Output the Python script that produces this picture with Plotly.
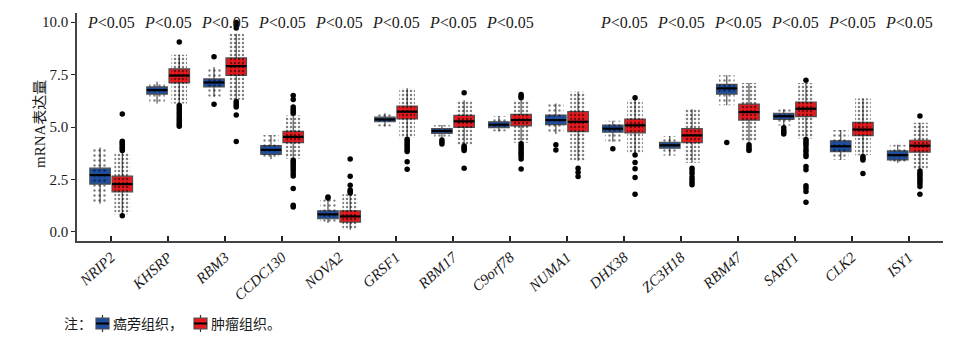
import plotly.graph_objects as go

# Genes on the x axis
genes = ["NRIP2", "KHSRP", "RBM3", "CCDC130", "NOVA2", "GRSF1", "RBM17", "C9orf78",
         "NUMA1", "DHX38", "ZC3H18", "RBM47", "SART1", "CLK2", "ISY1"]
tick_labels = ["<i>%s</i>" % g for g in genes]

# Significance label per gene ("" where no label is shown)
p_labels = ["P<0.05"] * 8 + [""] + ["P<0.05"] * 6

# Adjacent (normal) tissue box statistics
normal_q1 = [2.28, 6.57, 6.91, 3.70, 0.63, 5.25, 4.70, 4.97, 5.11, 4.75, 3.99, 6.57, 5.36, 3.83, 3.43]
normal_median = [2.71, 6.76, 7.12, 3.91, 0.84, 5.36, 4.81, 5.11, 5.33, 4.92, 4.13, 6.84, 5.51, 4.08, 3.66]
normal_q3 = [3.04, 6.91, 7.29, 4.11, 1.01, 5.47, 4.92, 5.25, 5.57, 5.09, 4.27, 7.03, 5.65, 4.34, 3.86]
normal_low = [1.34, 6.12, 6.44, 3.47, 0.43, 5.02, 4.50, 4.78, 4.67, 4.30, 3.64, 6.04, 5.07, 3.43, 3.28]
normal_high = [4.02, 7.15, 7.86, 4.62, 1.55, 5.65, 5.09, 5.52, 6.12, 5.30, 4.57, 7.47, 5.84, 4.86, 4.15]
normal_outliers = [[], [], [8.35, 6.08], [], [1.62, 1.66], [], [4.38, 4.28, 4.19], [],
                   [4.16, 3.91], [3.96], [], [4.26], [4.97, 4.85, 4.75, 4.67], [], []]

# Tumor tissue box statistics
tumor_q1 = [1.91, 7.10, 7.46, 4.26, 0.47, 5.38, 4.98, 5.05, 4.78, 4.72, 4.26, 5.33, 5.49, 4.59, 3.80]
tumor_median = [2.28, 7.45, 7.90, 4.53, 0.74, 5.73, 5.27, 5.33, 5.25, 5.08, 4.60, 5.71, 5.87, 4.88, 4.11]
tumor_q3 = [2.66, 7.77, 8.29, 4.79, 1.01, 6.00, 5.55, 5.60, 5.73, 5.38, 4.92, 6.09, 6.19, 5.22, 4.37]
tumor_low = [0.85, 6.12, 6.30, 3.50, 0.10, 4.48, 4.15, 4.25, 3.39, 3.75, 3.30, 4.30, 4.45, 3.65, 2.96]
tumor_high = [3.78, 8.44, 9.44, 5.55, 1.80, 6.84, 6.28, 6.28, 6.68, 6.30, 5.84, 7.10, 7.10, 6.36, 5.20]
tumor_outliers = [
    [5.62, 4.32, 4.25, 4.18, 4.10, 4.02, 3.95, 3.88, 0.77],
    [9.05, 6.02, 5.92, 5.82, 5.72, 5.62, 5.52, 5.42, 5.32, 5.22, 5.12, 5.04],
    [9.98, 9.85, 9.71, 6.22, 6.12, 6.02, 5.95, 5.57, 4.31],
    [6.50, 6.31, 5.95, 5.85, 5.75, 5.65, 3.42, 3.32, 3.22, 3.12, 3.02, 2.92, 2.78, 2.67, 2.07, 1.27, 1.19],
    [3.48, 2.66, 2.23, 2.00, 1.93, 1.86],
    [4.42, 4.32, 4.22, 4.12, 4.02, 3.92, 3.83, 3.35, 2.99],
    [6.63, 4.10, 4.02, 3.95, 3.88, 3.04],
    [6.55, 6.45, 6.39, 4.20, 4.10, 4.00, 3.90, 3.80, 3.70, 3.60, 3.48, 3.00],
    [3.04, 2.85, 2.64],
    [6.39, 3.67, 3.31, 3.01, 2.59, 1.80],
    [3.04, 2.92, 2.78, 2.62, 2.50, 2.37, 2.25],
    [4.15, 4.05, 3.95, 3.88],
    [7.23, 4.40, 4.30, 4.20, 4.10, 3.95, 3.85, 3.70, 3.59, 3.12, 2.96, 2.20, 2.08, 1.93, 1.41],
    [3.59, 3.50, 3.43, 2.78],
    [5.52, 2.90, 2.80, 2.70, 2.60, 2.50, 2.40, 2.30, 2.17, 1.80],
]

# Legend text
legend_note = "注："
group_names = ["癌旁组织，", "肿瘤组织。"]

FONT = "Liberation Serif, 'Noto Sans CJK SC', serif"
TEXT = "#1a1a1a"
BLUE = "#1f4e9e"
RED = "#e31a1f"
OUTLINE = "#505050"
OFFSET = 0.195
BOX_W = 0.36

W, H = 960, 338
ML, MR, MT, MB = 77, 17, 13, 97

idx = list(range(len(genes)))
x_normal = [i - OFFSET for i in idx]
x_tumor = [i + OFFSET for i in idx]

fig = go.Figure()


def add_group(xpos, q1, med, q3, lo, hi, outl, color, name, dot_size, dot_solid):
    fig.add_trace(go.Box(
        x=xpos, q1=q1, median=med, q3=q3, lowerfence=lo, upperfence=hi,
        width=BOX_W, whiskerwidth=0, fillcolor=color, name=name,
        line=dict(color=OUTLINE, width=1.2), hoverinfo="skip",
    ))
    # dotted texture standing in for the individual samples spread over each box
    xs, ys = [], []
    half = BOX_W * 0.38
    for x, a, b in zip(xpos, lo, hi):
        xs += [x - half, x + half, x + half, x - half, x - half, None]
        ys += [a, a, b, b, a, None]
    fig.add_trace(go.Scatter(
        x=xs, y=ys, mode="lines", fill="toself", line=dict(width=0),
        fillcolor="rgba(0,0,0,0)",
        fillpattern=dict(shape=".", fgcolor="black", bgcolor="rgba(0,0,0,0)",
                         size=dot_size, solidity=dot_solid),
        hoverinfo="skip",
    ))
    # median lines drawn thicker
    mx, my = [], []
    for x, m in zip(xpos, med):
        mx += [x - BOX_W / 2, x + BOX_W / 2, None]
        my += [m, m, None]
    fig.add_trace(go.Scatter(x=mx, y=my, mode="lines", line=dict(color="black", width=2.2),
                             hoverinfo="skip"))
    # outliers
    ox, oy = [], []
    for x, vals in zip(xpos, outl):
        ox += [x] * len(vals)
        oy += vals
    fig.add_trace(go.Scatter(x=ox, y=oy, mode="markers",
                             marker=dict(color="black", size=5.5),
                             hoverinfo="skip"))


add_group(x_normal, normal_q1, normal_median, normal_q3, normal_low, normal_high,
          normal_outliers, BLUE, group_names[0], 5, 0.18)
add_group(x_tumor, tumor_q1, tumor_median, tumor_q3, tumor_low, tumor_high,
          tumor_outliers, RED, group_names[1], 4, 0.3)

for i, lab in zip(idx, p_labels):
    if lab:
        fig.add_annotation(x=i, y=10.0, xref="x", yref="y",
                           text="<i>P</i>" + lab[1:].replace("<", "&lt;"),
                           showarrow=False, yanchor="middle",
                           font=dict(family=FONT, size=16, color=TEXT))


# page pixel positions -> paper coordinates
def px_x(px):
    return (px - ML) / (W - ML - MR)


def px_y(py):
    return (H - MB - py) / (H - MT - MB)


# y axis title
fig.add_annotation(x=px_x(40), y=px_y(124), xref="paper", yref="paper",
                   text="mRNA表达量", textangle=-90, showarrow=False,
                   xanchor="center", yanchor="middle",
                   font=dict(family=FONT, size=15, color=TEXT))

# hand-drawn legend under the plot
fig.add_annotation(x=px_x(62), y=px_y(324), xref="paper", yref="paper", text=legend_note,
                   showarrow=False, xanchor="left", yanchor="middle",
                   font=dict(family=FONT, size=14, color=TEXT))
for left, color, name in [(96, BLUE, group_names[0]), (194, RED, group_names[1])]:
    cx = left + 6.5
    fig.add_shape(type="line", xref="paper", yref="paper",
                  x0=px_x(cx), x1=px_x(cx), y0=px_y(315), y1=px_y(332),
                  line=dict(color="#333", width=1.2))
    fig.add_shape(type="rect", xref="paper", yref="paper",
                  x0=px_x(left), x1=px_x(left + 13), y0=px_y(318), y1=px_y(329),
                  fillcolor=color, line=dict(color=OUTLINE, width=1.2))
    fig.add_shape(type="line", xref="paper", yref="paper",
                  x0=px_x(left), x1=px_x(left + 13), y0=px_y(323.5), y1=px_y(323.5),
                  line=dict(color="black", width=2))
    fig.add_annotation(x=px_x(left + 15), y=px_y(324), xref="paper", yref="paper", text=name,
                       showarrow=False, xanchor="left", yanchor="middle",
                       font=dict(family=FONT, size=14, color=TEXT))

fig.update_layout(
    width=W, height=H,
    margin=dict(l=ML, r=MR, t=MT, b=MB),
    plot_bgcolor="white", paper_bgcolor="white",
    font=dict(family=FONT, size=14, color=TEXT),
    showlegend=False,
    xaxis=dict(
        range=[-0.6, 14.6], tickmode="array", tickvals=idx, ticktext=tick_labels,
        tickangle=-42, ticks="inside", ticklen=5, tickwidth=1.5, tickcolor="#222",
        showline=True, linecolor="#444", linewidth=1.5, showgrid=False, zeroline=False,
        automargin=False,
        tickfont=dict(family=FONT, size=15, color=TEXT),
    ),
    yaxis=dict(
        range=[-0.43, 10.43], tickmode="array", tickvals=[0, 2.5, 5, 7.5, 10],
        ticktext=["0.0", "2.5", "5.0", "7.5", "10.0"],
        ticks="outside", ticklen=4, tickwidth=1.2, tickcolor="#222",
        showline=True, linecolor="#444", linewidth=1.5, showgrid=False, zeroline=False,
        automargin=False,
        tickfont=dict(family=FONT, size=15, color=TEXT),
    ),
)

fig.write_html("out.html")
